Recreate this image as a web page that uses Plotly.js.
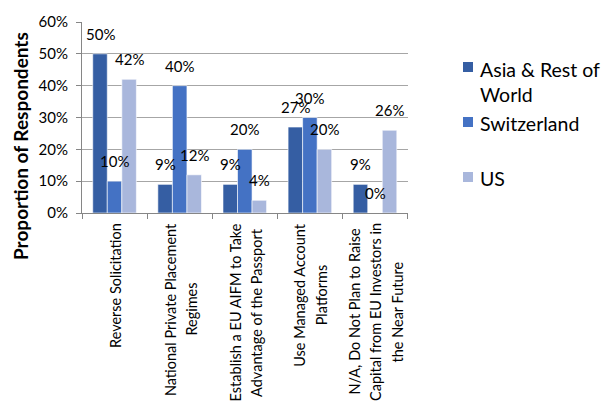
<!DOCTYPE html>
<html>
<head>
<meta charset="utf-8">
<script src="https://cdn.plot.ly/plotly-3.0.1.min.js"></script>
<style>html,body{margin:0;padding:0;background:#fff;}#chart{width:601px;height:403px;}</style>
</head>
<body>
<div id="chart"></div>
<script>
var categories = [
  "Reverse Solicitation",
  "National Private Placement<br>Regimes",
  "Establish a EU AIFM to Take<br>Advantage of the Passport",
  "Use Managed Account<br>Platforms",
  "N/A, Do Not Plan to Raise<br>Capital from EU Investors in<br>the Near Future"
];
var catKeys = ["c1", "c2", "c3", "c4", "c5"];
var seriesNames = ["Asia & Rest of<br>World", "Switzerland", "US"];
var asiaValues = [0.50, 0.09, 0.09, 0.27, 0.09];
var switzerlandValues = [0.10, 0.40, 0.20, 0.30, 0.00];
var usValues = [0.42, 0.12, 0.04, 0.20, 0.26];
var yTicks = [0, 0.1, 0.2, 0.3, 0.4, 0.5, 0.6];

var colors = ["#355EA3", "#4472C4", "#A9B7DC"];
var allValues = [asiaValues, switzerlandValues, usValues];
var FONT = "Lato, 'Liberation Sans', sans-serif";
var CAT_SIZE = 14.5;

// plot area in pixels (for placing non-data decorations in paper coords)
var PL = 82, PR = 408, PT = 22, PB = 213;
function px(x) { return (x - PL) / (PR - PL); }
function py(y) { return (PB - y) / (PB - PT); }

var ctx = document.createElement("canvas").getContext("2d");
ctx.font = CAT_SIZE + "px Lato, 'Liberation Sans', sans-serif";
function textW(s) { return ctx.measureText(s).width; }

var traces = allValues.map(function (vals, i) {
  return {
    type: "bar",
    name: seriesNames[i],
    x: catKeys,
    y: vals,
    marker: { color: colors[i], line: { color: "#ffffff", width: 0.6 } },
    hoverinfo: "none",
    showlegend: false
  };
});

var annotations = [];
var shapes = [];
var shifts = [-14.5, 0, 14.5];
allValues.forEach(function (vals, i) {
  vals.forEach(function (v, j) {
    annotations.push({
      x: catKeys[j], y: v, xref: "x", yref: "y",
      text: Math.round(v * 100) + "%",
      showarrow: false, xshift: shifts[i], yshift: 20,
      yanchor: "middle", xanchor: "center",
      font: { family: FONT, size: 15, color: "#000" }
    });
  });
});
// category labels: one rotated annotation per line, lines centred on each other
var LINE_GAP = 21.5;
categories.forEach(function (c, j) {
  var lines = c.split("<br>");
  var maxW = Math.max.apply(null, lines.map(textW));
  lines.forEach(function (ln, k) {
    annotations.push({
      x: catKeys[j], y: 0, xref: "x", yref: "paper",
      text: ln, textangle: -90, showarrow: false,
      yanchor: "middle", xanchor: "center", align: "center",
      xshift: (k - (lines.length - 1) / 2) * LINE_GAP + 1,
      yshift: -(10 + maxW / 2),
      font: { family: FONT, size: CAT_SIZE, color: "#000" }
    });
  });
});
annotations.push({
  x: 0, y: py(146), xref: "paper", yref: "paper",
  text: "<b>Proportion of Respondents</b>", textangle: -90, showarrow: false,
  xanchor: "center", yanchor: "middle", xshift: -62,
  font: { family: FONT, size: 19, color: "#000" }
});

// custom legend
var legendTextY = [56, 110, 165];
var legendBoxY = [62, 117, 172];
seriesNames.forEach(function (name, i) {
  annotations.push({
    x: px(478), y: py(legendTextY[i]), xref: "paper", yref: "paper",
    text: name, showarrow: false, xanchor: "left", yanchor: "top", align: "left",
    font: { family: FONT, size: 19.5, color: "#000" }
  });
  shapes.push({
    type: "rect", xref: "paper", yref: "paper",
    x0: px(463), x1: px(473), y0: py(legendBoxY[i]), y1: py(legendBoxY[i] + 10),
    fillcolor: colors[i], line: { width: 0 }
  });
});

var layout = {
  width: 601, height: 403,
  margin: { l: PL, r: 601 - PR, t: PT, b: 403 - PB, pad: 0 },
  paper_bgcolor: "#fff", plot_bgcolor: "#fff",
  barmode: "group", bargap: 0.33, bargroupgap: 0,
  font: { family: FONT, size: 15, color: "#000" },
  xaxis: {
    type: "category", showticklabels: false,
    tickson: "boundaries", ticks: "outside", ticklen: 5, tickcolor: "#868686",
    showline: true, linecolor: "#868686", linewidth: 1,
    showgrid: false, zeroline: false, fixedrange: true
  },
  yaxis: {
    range: [0, 0.6], tickvals: yTicks, tickformat: ".0%",
    ticks: "outside", ticklen: 5, tickcolor: "#868686",
    ticklabelstandoff: 5,
    showline: true, linecolor: "#868686", linewidth: 1,
    showgrid: true, gridcolor: "#A6A6A6", gridwidth: 1,
    zeroline: false, tickfont: { family: FONT, size: 15, color: "#000" },
    fixedrange: true
  },
  showlegend: false,
  annotations: annotations,
  shapes: shapes
};

Plotly.newPlot("chart", traces, layout, { displayModeBar: false, staticPlot: true });
</script>
</body>
</html>
